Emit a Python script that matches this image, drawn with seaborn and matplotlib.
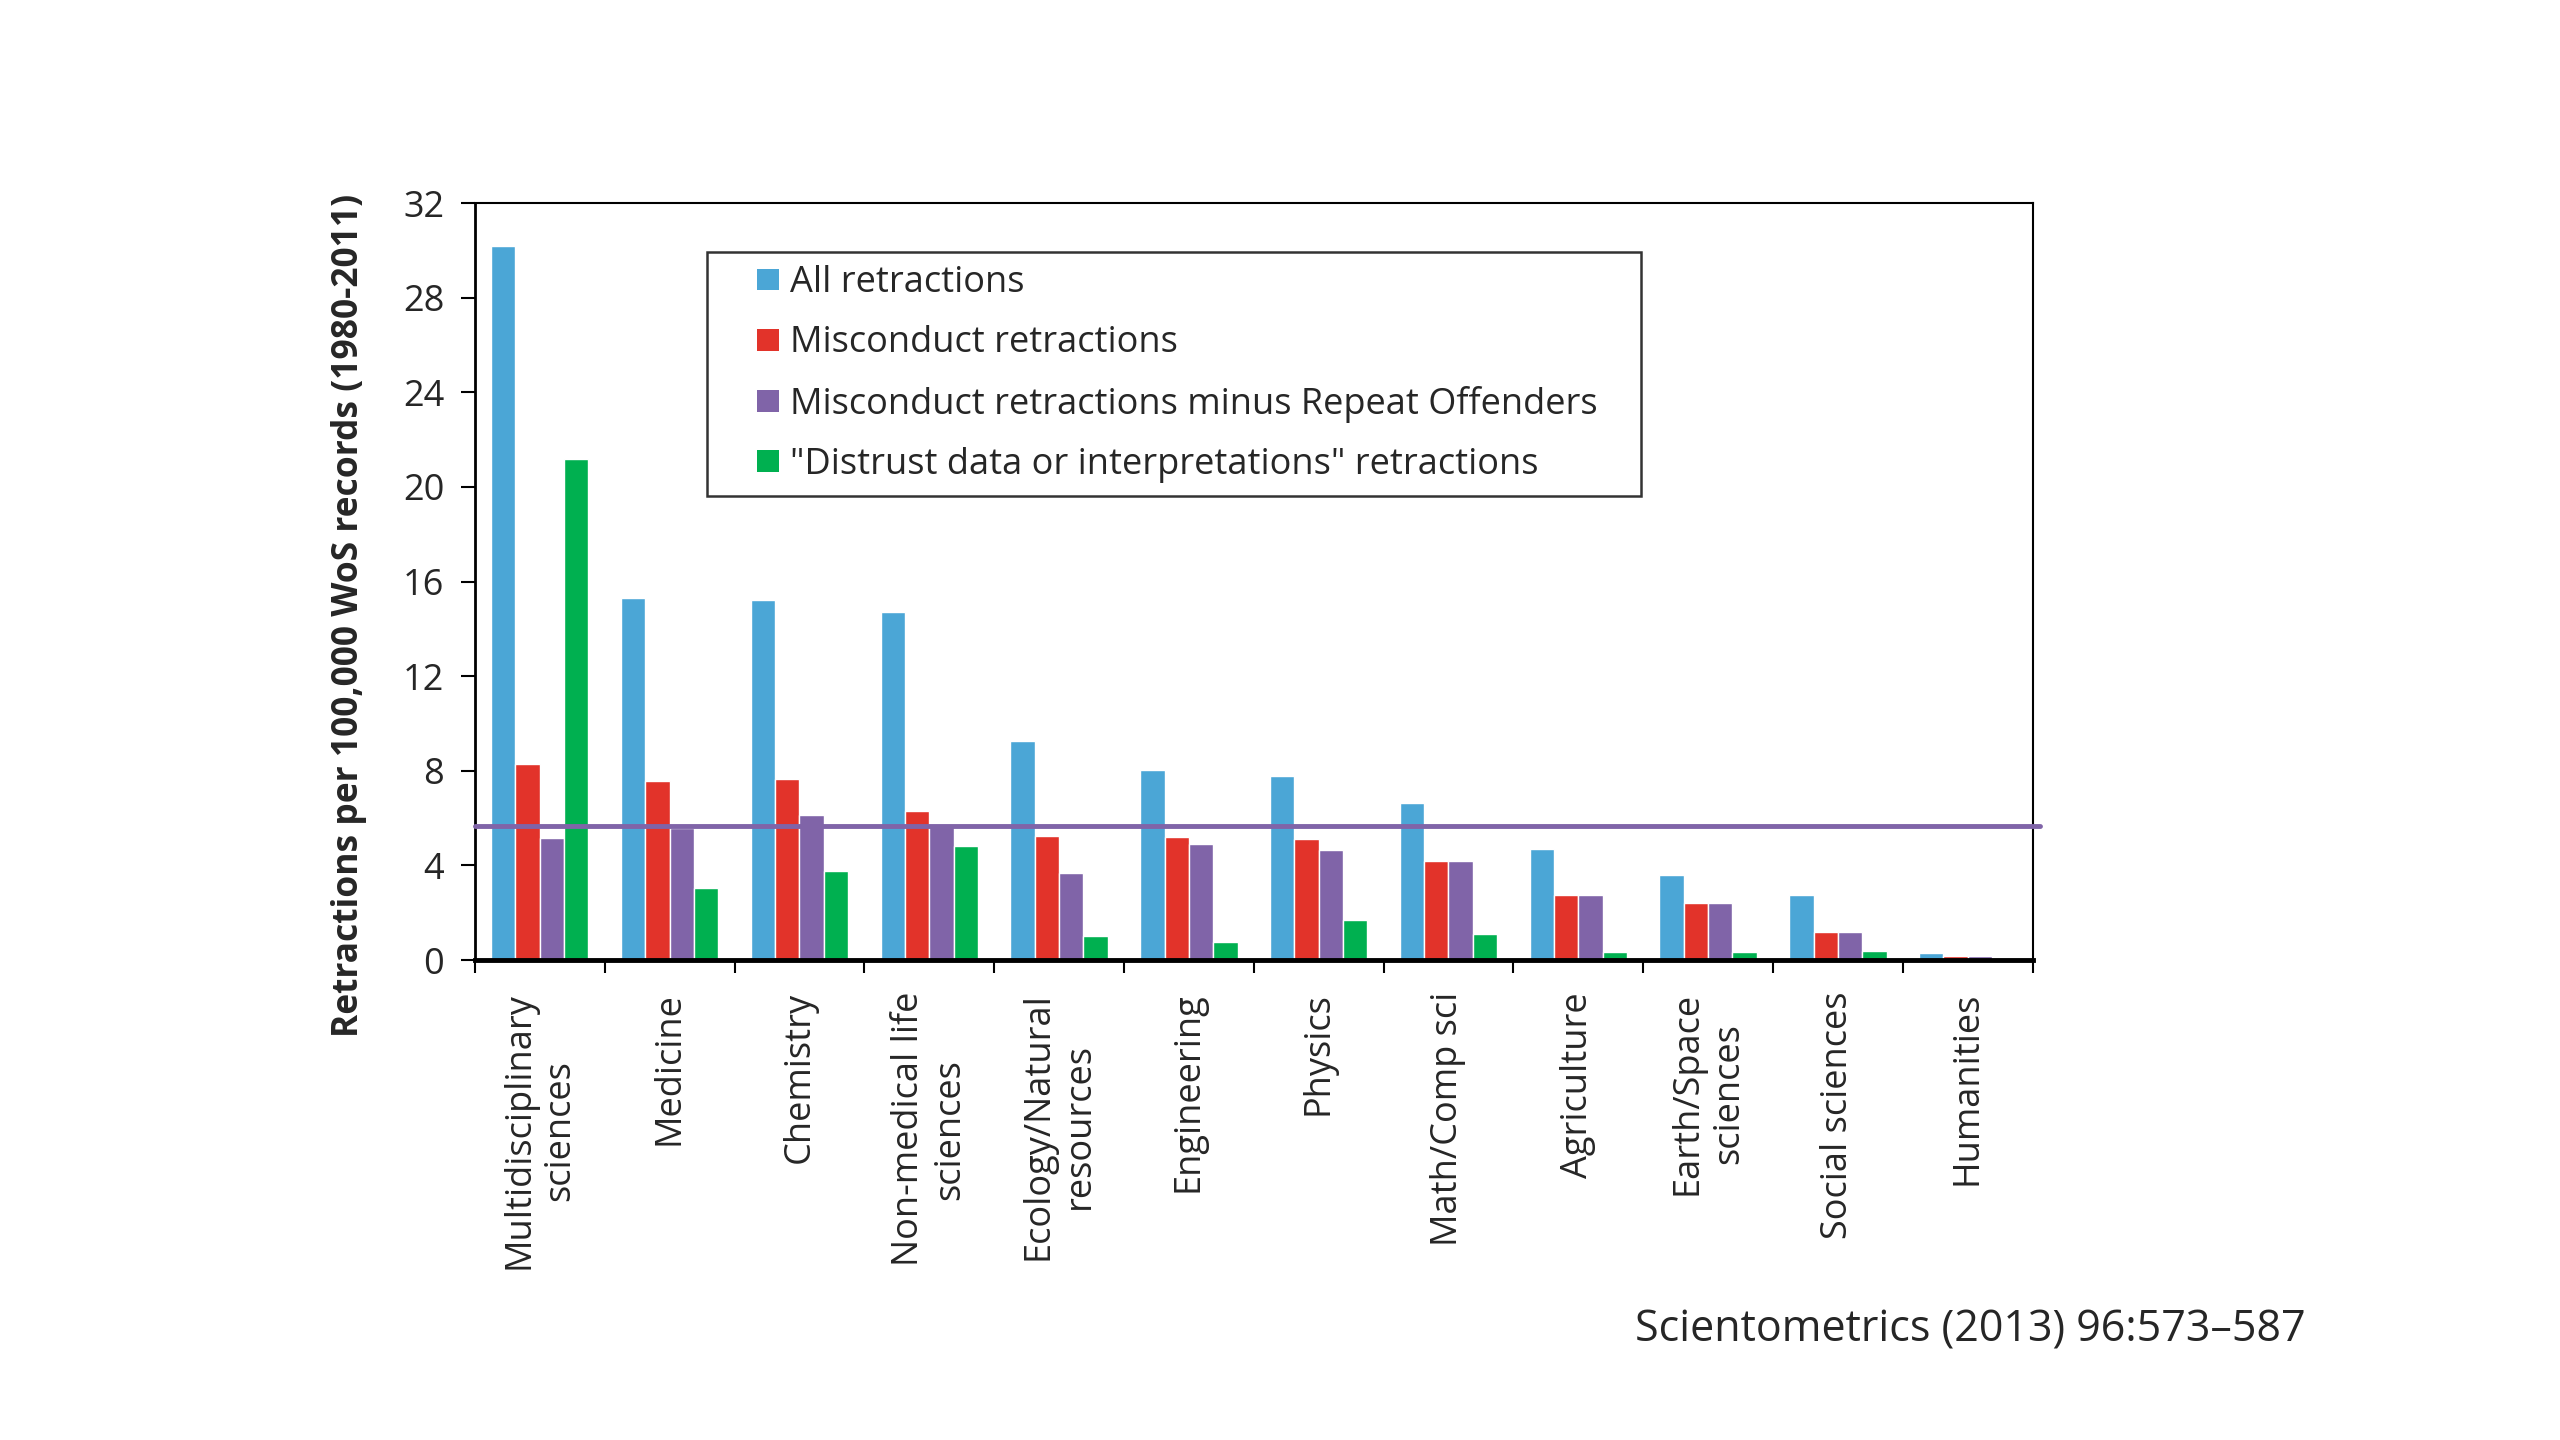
import numpy as np
import pandas as pd
import matplotlib
matplotlib.use("Agg")
import matplotlib.pyplot as plt
from matplotlib.patches import Patch, Rectangle
from matplotlib.legend_handler import HandlerPatch
import seaborn as sns

fields = ["Multidisciplinary\nsciences", "Medicine", "Chemistry", "Non-medical life\nsciences",
          "Ecology/Natural\nresources", "Engineering", "Physics", "Math/Comp sci",
          "Agriculture", "Earth/Space\nsciences", "Social sciences", "Humanities"]
all_retr = [30.2, 15.3, 15.2, 14.7, 9.25, 8.05, 7.8, 6.65, 4.7, 3.6, 2.75, 0.3]
misconduct = [8.3, 7.55, 7.65, 6.3, 5.25, 5.2, 5.1, 4.2, 2.75, 2.4, 1.2, 0.18]
misc_minus_repeat = [5.15, 5.6, 6.15, 5.7, 3.7, 4.9, 4.65, 4.2, 2.75, 2.4, 1.2, 0.18]
distrust = [21.2, 3.05, 3.75, 4.8, 1.0, 0.75, 1.7, 1.1, 0.32, 0.32, 0.38, 0.0]
series_names = ["All retractions", "Misconduct retractions",
                "Misconduct retractions minus Repeat Offenders",
                "\"Distrust data or interpretations\" retractions"]
colors = ["#4BA6D6", "#E2332A", "#8064A8", "#00B050"]
avg_line = 5.65

df = pd.DataFrame({
    "field": fields * 4,
    "value": all_retr + misconduct + misc_minus_repeat + distrust,
    "series": np.repeat(series_names, len(fields)),
})

sns.set_style("white")
plt.rcParams["font.family"] = ["Open Sans", "DejaVu Sans"]

fig = plt.figure(figsize=(25.6, 14.4), dpi=100)
ax = fig.add_axes([0.1855, 0.3333, 0.6085, 0.5257])

sns.barplot(data=df, x="field", y="value", hue="series", palette=colors,
            width=0.75, saturation=1, legend=False, ax=ax)

ax.axhline(avg_line, xmin=0, xmax=1.005, color="#8064A8", lw=3.5, clip_on=False, zorder=5)

ax.set_xlim(-0.5, 11.5)
ax.set_ylim(0, 32)
ax.set_yticks(np.arange(0, 33, 4))
ax.set_xticks(np.arange(-0.5, 12, 1), minor=True)
ax.tick_params(axis="x", which="major", length=0, pad=23, labelsize=26)
ax.tick_params(axis="x", which="minor", length=9, width=1.5, direction="out", color="black", bottom=True)
ax.tick_params(axis="y", length=10, width=1.5, direction="out", pad=12, labelsize=26, color="black", left=True)
for lab in ax.get_xticklabels():
    lab.set_rotation(90)
    lab.set_ha("center")
    lab.set_va("top")
    lab.set_multialignment("center")

for side, lw in [("left", 2), ("bottom", 3.5), ("top", 1.5), ("right", 1.5)]:
    ax.spines[side].set_visible(True)
    ax.spines[side].set_color("black")
    ax.spines[side].set_linewidth(lw)

ax.set_xlabel("")
ax.set_ylabel("Retractions per 100,000 WoS records (1980-2011)", fontsize=25.5, fontweight="bold")
ax.yaxis.set_label_coords(-0.069, 0.455)


def small_square(legend, orig_handle, xdescent, ydescent, width, height, fontsize):
    s = 0.6 * fontsize
    return Rectangle((-xdescent + width - s, -ydescent + (height - s) / 2), s, s)


handles = [Patch(facecolor=c, edgecolor="none") for c in colors]
leg = ax.legend(handles, series_names, loc="upper left", bbox_to_anchor=(0.1487, 0.615, 0.6, 0.32),
                mode="expand", fontsize=26, frameon=True, fancybox=False, edgecolor="black",
                handlelength=1.65, handleheight=0.7, handletextpad=0.3, labelspacing=0.67,
                borderpad=0.36, borderaxespad=0,
                handler_map={Patch: HandlerPatch(patch_func=small_square)})
leg.get_frame().set_linewidth(1.8)

fig.text(0.9008, 0.0764, "Scientometrics (2013) 96:573\u2013587", ha="right", va="center",
         fontsize=31, family=["Liberation Sans Narrow", "Open Sans", "DejaVu Sans"])

fig.savefig("out.png", dpi=100, facecolor="white")
